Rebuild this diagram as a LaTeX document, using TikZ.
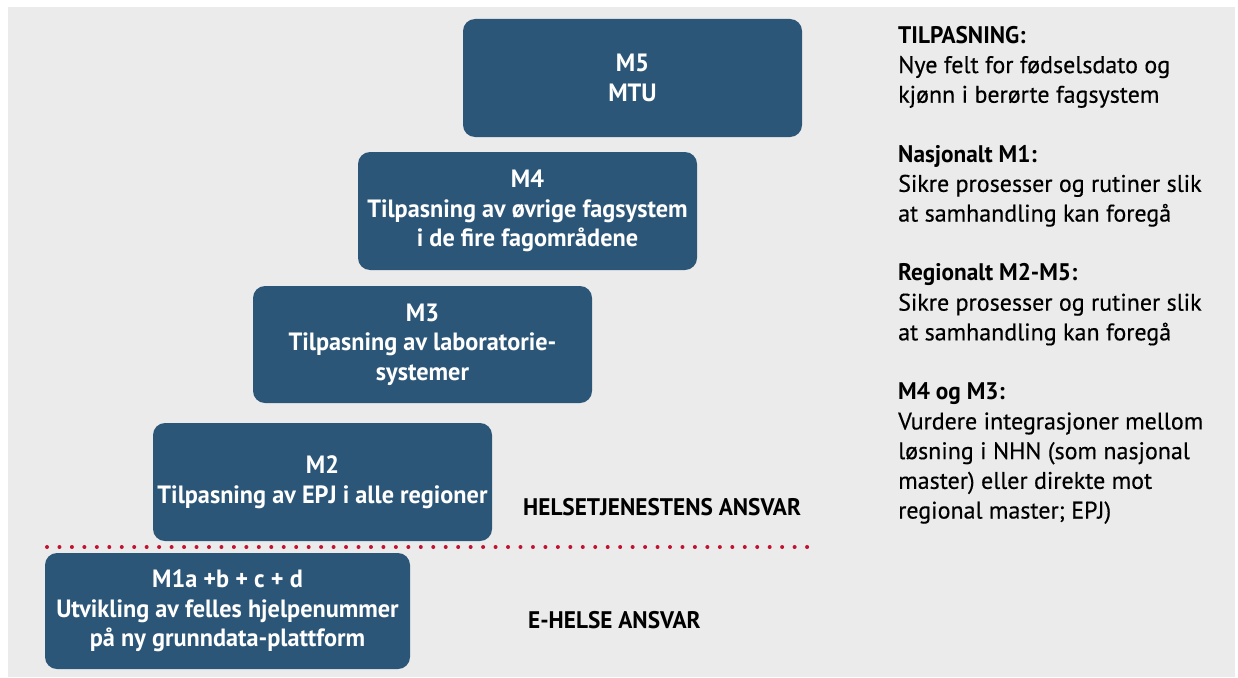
\documentclass[tikz,border=0pt]{standalone}
\usepackage{fontspec}
\setmainfont{PT Sans}[UprightFeatures={FakeBold=0.4},BoldFeatures={FakeStretch=0.97}]
\definecolor{boxblue}{RGB}{44,86,120}
\definecolor{bggray}{RGB}{235,235,235}
\definecolor{dotred}{RGB}{195,18,48}
\begin{document}
\begin{tikzpicture}[x=1pt,y=-1pt,
  stepbox/.style={draw=none,fill=boxblue,rounded corners=12pt,text=white,
    align=center,inner sep=0pt,minimum width=339pt,minimum height=118pt,
    font=\bfseries\fontsize{25}{29.5}\selectfont},
  side/.style={align=left,inner sep=0pt,anchor=north west,
    font=\fontsize{24}{29.7}\selectfont},
  resp/.style={inner sep=0pt,anchor=base west,font=\bfseries\fontsize{24}{29}\selectfont}]
\useasboundingbox (0,0) rectangle (1238,677);
\fill[white] (0,0) rectangle (1238,677);
\fill[bggray] (8,7) rectangle (1235,677);
\node[stepbox] (m5) at (632.5,78) {M5\\MTU};
\node[stepbox] (m4) at (527.5,211) {M4\\Tilpasning av øvrige fagsystem\\i de fire fagområdene};
\node[stepbox,minimum height=117pt] (m3) at (422.5,344.5) {M3\\Tilpasning av laboratorie-\\systemer};
\node[stepbox] (m2) at (322.5,482) {M2\\Tilpasning av EPJ i alle regioner};
\node[stepbox,minimum width=365pt,minimum height=116pt] (m1) at (227.5,611) {M1a +b + c + d\\Utvikling av felles hjelpenummer\\på ny grunndata-plattform};
\draw[dotred,line width=4pt,line cap=round,dash pattern=on 0pt off 12.46pt] (47,547) -- (808,547);
\node[resp] (hel) at (523,515) {HELSETJENESTENS ANSVAR};
\node[resp] (eh) at (528,628) {E-HELSE ANSVAR};
\node[side] (txt) at (898,26) {\textbf{TILPASNING:}\\Nye felt for fødselsdato og\\kjønn i berørte fagsystem\\[29.7pt]
\textbf{Nasjonalt M1:}\\Sikre prosesser og rutiner slik\\at samhandling kan foregå\\[29.7pt]
\textbf{Regionalt M2-M5:}\\Sikre prosesser og rutiner slik\\at samhandling kan foregå\\[29.7pt]
\textbf{M4 og M3:}\\Vurdere integrasjoner mellom\\løsning i NHN (som nasjonal\\master) eller direkte mot\\regional master; EPJ)};
\end{tikzpicture}
\end{document}
